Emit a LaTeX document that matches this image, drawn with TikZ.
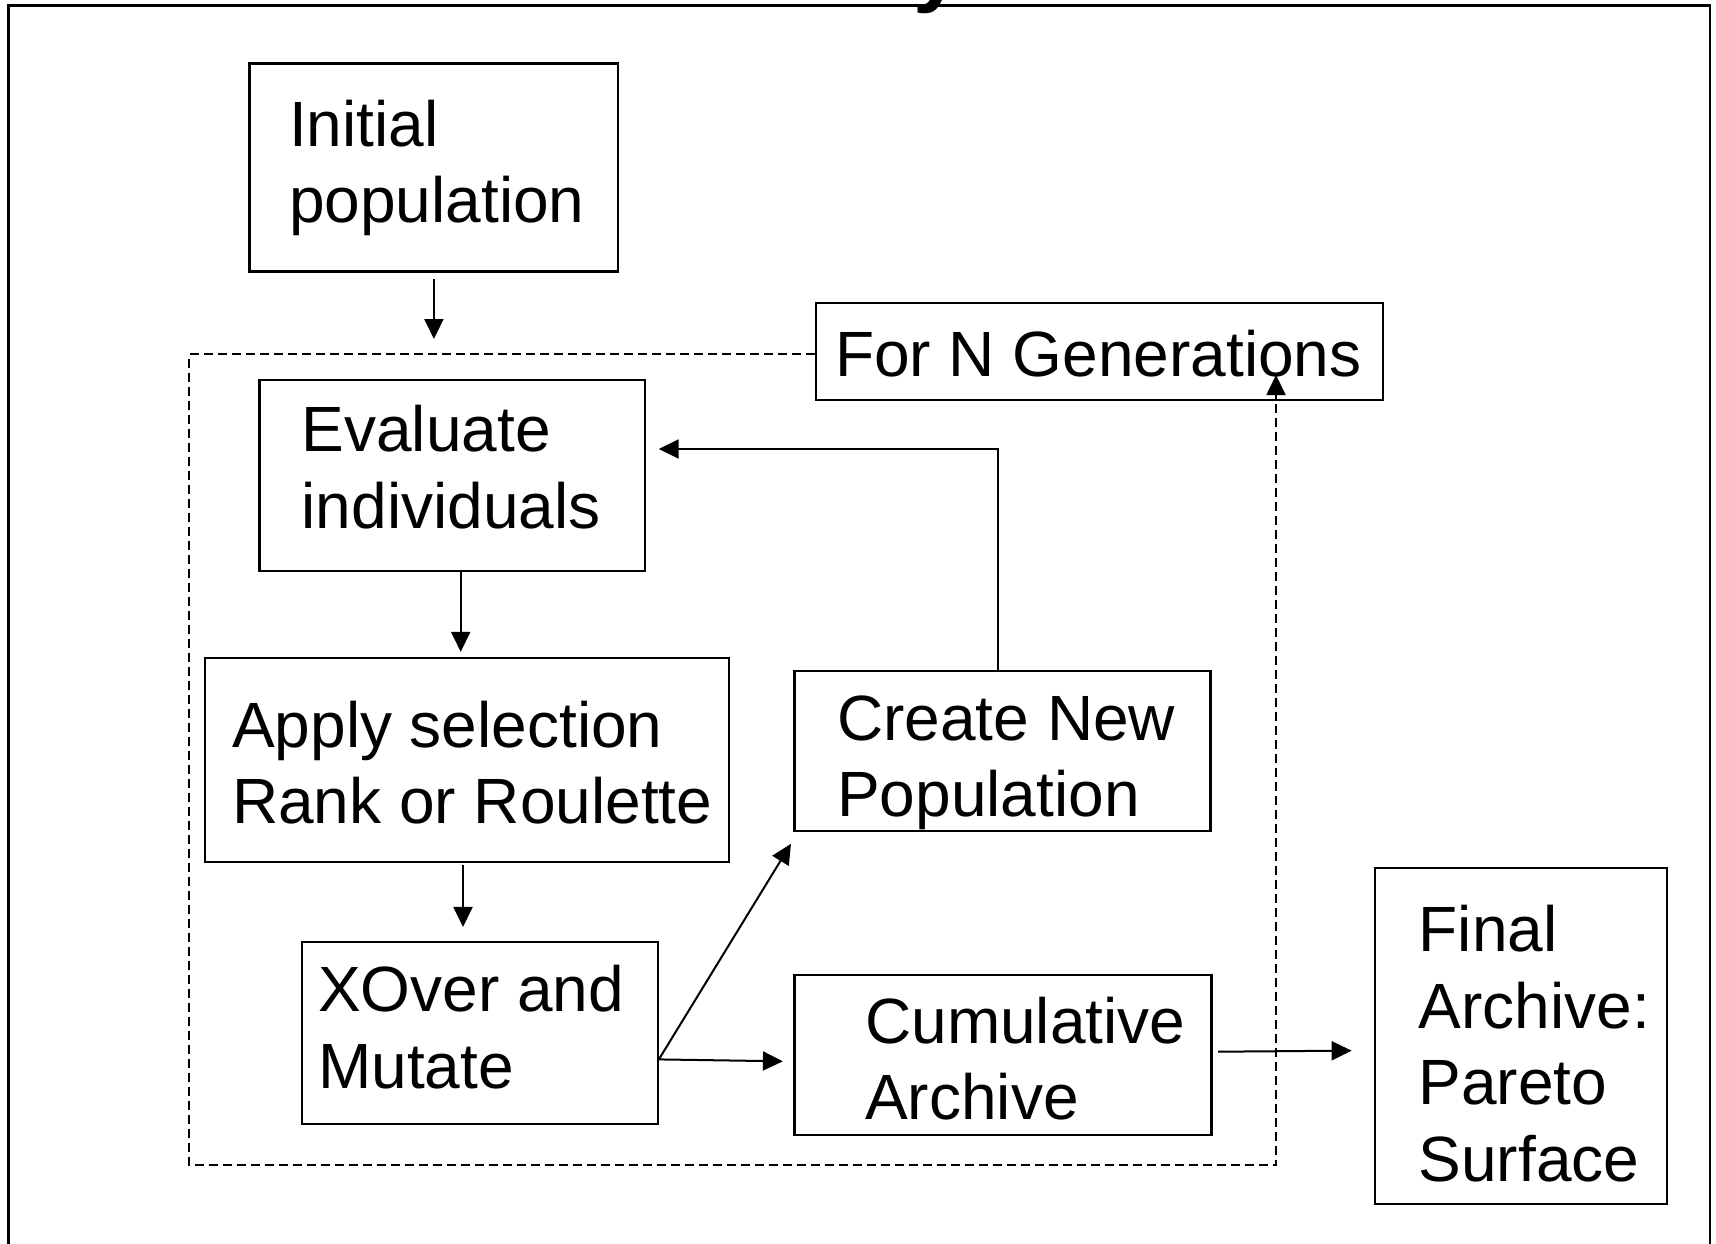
\documentclass[tikz,border=0pt]{standalone}
\usepackage{fontspec}
\setmainfont{Liberation Sans}
\usetikzlibrary{arrows.meta}
\begin{document}
\begin{tikzpicture}[x=1pt,y=-1pt,
  box/.style={draw, line width=2.2pt, inner sep=0pt, rectangle},
  lbl/.style={anchor=base west, inner sep=0pt, font=\fontsize{64}{76.5}\selectfont},
  arr/.style={line width=2pt, -{Triangle[length=20pt,width=19pt]}},
  loopline/.style={line width=1.8pt, dash pattern=on 9pt off 5pt, -{Triangle[length=20pt,width=19pt]}},
]
\useasboundingbox (0,0) rectangle (1716,1243);
\fill[white] (0,0) rectangle (1716,1243);

% title line, mostly above the page
\node[anchor=base west, inner sep=0pt, font=\fontsize{88}{100}\selectfont\bfseries] (title) at (913,-4.5) {y};
% outer frame
\draw[line width=2.8pt] (8.7,1300) -- (8.7,5.3) -- (1710,5.3) -- (1710,1300);

% boxes
\node[box, minimum width=368.8pt, minimum height=207.9pt] (init)   at (433.9,167.5) {};
\node[box, minimum width=567.4pt, minimum height=97.3pt]  (forN)   at (1099.3,351.35) {};
\node[box, minimum width=385.2pt, minimum height=191.5pt] (eval)   at (452,475.6) {};
\node[box, minimum width=524.2pt, minimum height=204.7pt] (apply)  at (466.8,760) {};
\node[box, minimum width=355.7pt, minimum height=181.7pt] (xover)  at (479.9,1033.2) {};
\node[box, minimum width=415.9pt, minimum height=159.8pt] (create) at (1002.5,750.8) {};
\node[box, minimum width=417pt,   minimum height=159.9pt] (cumul)  at (1003,1055) {};
\node[box, minimum width=292.2pt, minimum height=335.9pt] (final)  at (1520.7,1035.9) {};

% box texts
\node[lbl] (init-t)   at (289,146)     {\vtop{\hbox{Initial}\hbox{population}}};
\node[lbl] (forN-t)   at (835,376)     {For N Generations};
\node[lbl] (eval-t)   at (301.5,451.7) {\vtop{\hbox{Evaluate}\hbox{individuals}}};
\node[lbl] (apply-t)  at (232,747.3)   {\vtop{\hbox{Apply selection}\hbox{Rank or Roulette}}};
\node[lbl] (xover-t)  at (318,1011.7)  {\vtop{\hbox{XOver and}\hbox{Mutate}}};
\node[lbl] (create-t) at (837,740)     {\vtop{\hbox{Create New}\hbox{Population}}};
\node[lbl] (cumul-t)  at (865,1043.3)  {\vtop{\hbox{Cumulative}\hbox{Archive}}};
\node[lbl] (final-t)  at (1418.5,951.7){\vtop{\hbox{Final}\hbox{Archive:}\hbox{Pareto}\hbox{Surface}}};

% generation loop
\coordinate (loopTL) at (189,354);
\coordinate (loopBR) at (1276,1165);
\coordinate (genIn)  at (1276,375);
\coordinate (loopIn) at (433.9,339);
\draw[loopline] (forN.west |- loopTL) -- (loopTL) -- (loopTL |- loopBR) -- (loopBR) -- (genIn);

% flow
\draw[arr] ([yshift=-6.6pt]init.south) -- (loopIn);
\draw[arr] ([xshift=8.7pt]eval.south) -- ([xshift=-6.1pt,yshift=4.7pt]apply.north);
\draw[arr] ([xshift=-3.8pt,yshift=-2pt]apply.south) -- ([xshift=-16.9pt,yshift=14.3pt]xover.north);
\draw[arr] ([xshift=-4.5pt]create.north) |- ([xshift=13pt,yshift=26.6pt]eval.east);
\draw[arr] ([yshift=-26.2pt]xover.east) -- ([xshift=-2.5pt,yshift=-12pt]create.south west);
\draw[arr] ([yshift=-26.2pt]xover.east) -- ([xshift=-10.5pt,yshift=-6.3pt]cumul.west);
\draw[arr] ([xshift=5.5pt,yshift=3.3pt]cumul.east) -- ([xshift=-21.9pt,yshift=-14.7pt]final.west);
\end{tikzpicture}
\end{document}
